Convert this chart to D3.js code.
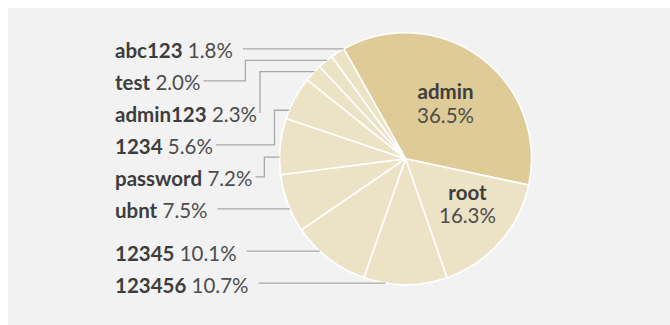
<!DOCTYPE html>
<html>
<head>
<meta charset="utf-8">
<script src="https://cdn.jsdelivr.net/npm/d3@7"></script>
<style>
  html, body { margin: 0; padding: 0; background: #ffffff; }
  svg { display: block; }
  text { font-family: Lato, "Noto Sans", sans-serif; }
</style>
</head>
<body>
<svg id="chart" width="670" height="325"></svg>
<script>
// Most common passwords tried, share of attempts (%)
const categories = ["admin", "root", "123456", "12345", "ubnt", "password", "1234", "admin123", "test", "abc123"];
const shares = [36.5, 16.3, 10.7, 10.1, 7.5, 7.2, 5.6, 2.3, 2.0, 1.8];
const insideLabelled = ["admin", "root"];

// Placement of the labels set inside a slice: [fraction of sweep, fraction of radius]
const insidePlacement = { "admin": [0.50, 0.535], "root": [0.42, 0.614] };

// Where each outside leader meets its slice (fraction of the slice's sweep)
// and where an elbowed leader turns (fraction of the run from text to pie).
const leaderAnchor = { "abc123": 0.70, "test": 0.60, "admin123": 0.60, "1234": 0.20,
                       "password": 0.31, "ubnt": 0.37, "12345": 0.61, "123456": 0.34 };
const leaderBend = { "abc123": 1.0, "test": 0.34, "admin123": 0.0, "1234": 0.80, "password": 0.37 };

const width = 670, height = 325;
const cx = 405.5, cy = 158.7, radius = 126;
const startAngle = -29.3 * Math.PI / 180;
const labelX = 115, rowGap = 32, fontSize = 20.5;

const svg = d3.select("#chart");

svg.append("rect")
  .attr("x", 8).attr("y", 8)
  .attr("width", width - 8).attr("height", height - 8)
  .attr("fill", "#f2f2f2");

const data = categories.map((c, i) => ({ name: c, value: shares[i] }));
const fmt = d3.format(".1f");

const pie = d3.pie().sort(null).value(d => d.value)
  .startAngle(startAngle).endAngle(startAngle + 2 * Math.PI);
const arcs = pie(data);

const arc = d3.arc().innerRadius(0).outerRadius(radius);
const fillFor = d3.scaleOrdinal().domain(categories)
  .range(categories.map(c => c === "admin" ? "#decb97" : "#ece2c6"));

const g = svg.append("g").attr("transform", `translate(${cx},${cy})`);

g.selectAll("path.slice")
  .data(arcs)
  .join("path")
  .attr("class", "slice")
  .attr("d", arc)
  .attr("fill", d => fillFor(d.data.name))
  .attr("stroke", "#ffffff")
  .attr("stroke-width", 1.6)
  .attr("stroke-linejoin", "round");

// Labels inside the two largest slices
arcs.filter(a => insideLabelled.includes(a.data.name)).forEach(a => {
  const [fa, fr] = insidePlacement[a.data.name];
  const ang = a.startAngle + fa * (a.endAngle - a.startAngle);
  const rl = radius * fr;
  const x = rl * Math.sin(ang), y = -rl * Math.cos(ang);
  const t = g.append("text")
    .attr("x", x).attr("y", y - 5)
    .attr("text-anchor", "middle")
    .attr("font-size", fontSize);
  t.append("tspan").attr("x", x).attr("dy", 0)
    .attr("font-weight", 700).attr("fill", "#3d3d3d").text(a.data.name);
  t.append("tspan").attr("x", x).attr("dy", 23.4)
    .attr("font-weight", 400).attr("fill", "#4d4d4d").text(fmt(a.data.value) + "%");
});

// Outside labels, listed top to bottom
const outside = arcs.filter(a => !insideLabelled.includes(a.data.name)).reverse();
const pointAt = ang => [cx + radius * Math.sin(ang), cy - radius * Math.cos(ang)];

outside.forEach(a => {
  const ang = a.startAngle + leaderAnchor[a.data.name] * (a.endAngle - a.startAngle);
  a.anchor = pointAt(ang);
  // vertical extent of the slice's rim on the left half of the pie
  const ys = [a.startAngle, a.endAngle].map(t => pointAt(t)[1]);
  if (a.startAngle < Math.PI && a.endAngle > Math.PI) ys.push(cy + radius);
  a.yMin = d3.min(ys); a.yMax = d3.max(ys);
});

// Stack rows downward so they keep a minimum spacing
let prev = -Infinity;
outside.forEach(a => {
  a.baseline = Math.max(a.anchor[1] + 7.5, prev + rowGap);
  prev = a.baseline;
});

const labelLayer = svg.append("g");
const lineLayer = svg.append("g");

outside.forEach(a => {
  const t = labelLayer.append("text")
    .attr("x", labelX).attr("y", a.baseline)
    .attr("font-size", fontSize);
  t.append("tspan").attr("font-weight", 700).attr("fill", "#3d3d3d").text(a.data.name);
  t.append("tspan").attr("font-weight", 400).attr("fill", "#4d4d4d").text(" " + fmt(a.data.value) + "%");
  const textEnd = labelX + t.node().getComputedTextLength();

  const lineY = a.baseline - 9.5;
  let pts;
  if (lineY >= a.yMin && lineY <= a.yMax) {
    const rimX = cx - Math.sqrt(radius * radius - (lineY - cy) * (lineY - cy));
    pts = [[textEnd + 10, lineY], [rimX, lineY]];
  } else {
    const x0 = textEnd + 3;
    const bx = x0 + leaderBend[a.data.name] * (a.anchor[0] - x0);
    pts = [[x0, lineY], [bx, lineY], [bx, a.anchor[1]], a.anchor];
  }
  lineLayer.append("path")
    .attr("d", d3.line()(pts))
    .attr("fill", "none")
    .attr("stroke", "#a8a8a8")
    .attr("stroke-width", 1.3);
});
</script>
</body>
</html>
